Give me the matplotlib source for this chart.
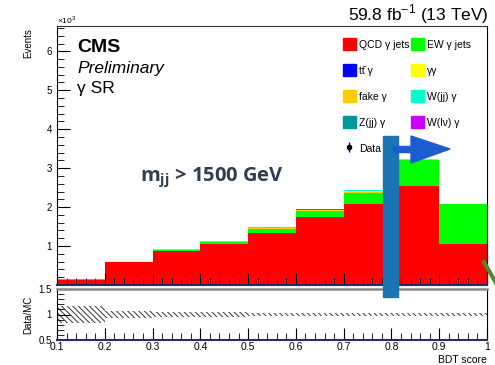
import numpy as np
import matplotlib
matplotlib.use("Agg")
import matplotlib.pyplot as plt
from matplotlib.patches import Patch, Polygon, Rectangle
from matplotlib.lines import Line2D
from matplotlib.ticker import MultipleLocator

plt.rcParams["font.family"] = ["Liberation Sans", "DejaVu Sans"]
plt.rcParams["mathtext.fontset"] = "custom"
plt.rcParams["mathtext.rm"] = "Liberation Sans"
plt.rcParams["mathtext.bf"] = "Open Sans:bold"
plt.rcParams["hatch.linewidth"] = 0.7

# === data (events in thousands) ===
bin_edges = [0.1, 0.2, 0.3, 0.4, 0.5, 0.6, 0.7, 0.8, 0.9, 1.0]
qcd    = [0.14, 0.58, 0.88, 1.06, 1.33, 1.74, 2.08, 2.55, 1.05]
ew     = [0.004, 0.012, 0.025, 0.05, 0.11, 0.16, 0.28, 0.67, 1.02]
fake   = [0.003, 0.005, 0.008, 0.012, 0.02, 0.02, 0.04, 0.005, 0.004]
gg     = [0.001, 0.002, 0.004, 0.006, 0.012, 0.012, 0.025, 0.003, 0.002]
wjj    = [0.001, 0.001, 0.002, 0.003, 0.005, 0.006, 0.008, 0.002, 0.002]
zjj    = [0.001, 0.001, 0.002, 0.002, 0.004, 0.004, 0.006, 0.001, 0.001]
ttg    = [0.001, 0.001, 0.001, 0.002, 0.003, 0.003, 0.004, 0.001, 0.001]
wlv    = [0.001, 0.001, 0.001, 0.001, 0.002, 0.002, 0.003, 0.001, 0.001]
ratio_unc = [0.17, 0.06, 0.045, 0.04, 0.035, 0.03, 0.03, 0.025, 0.025]

W, H = 495, 365
fig = plt.figure(figsize=(4.95, 3.65), dpi=100)

def fx(px):
    return px / W

def fy(py):
    return 1 - py / H

ax = fig.add_axes([fx(57), fy(285), fx(487) - fx(57), fy(26) - fy(285)])
rax = fig.add_axes([fx(57), fy(340), fx(487) - fx(57), fy(289) - fy(340)])

lefts = np.array(bin_edges[:-1])
width = 0.1
stack = [
    (qcd, "#ff0000"), (ew, "#00ff00"), (fake, "#ffcc00"), (gg, "#ffff00"),
    (wjj, "#00ffcc"), (zjj, "#009999"), (ttg, "#0000ff"), (wlv, "#cc00ff"),
]
bottom = np.zeros(len(lefts))
for vals, col in stack:
    ax.bar(lefts, vals, width=width, bottom=bottom, align="edge", color=col, linewidth=0)
    bottom = bottom + np.array(vals)

ax.set_xlim(0.1, 1.0)
ax.set_ylim(0, 6.65)
ax.set_xticklabels([])
ax.xaxis.set_major_locator(MultipleLocator(0.1))
ax.xaxis.set_minor_locator(MultipleLocator(0.02))
ax.yaxis.set_major_locator(MultipleLocator(1))
ax.yaxis.set_minor_locator(MultipleLocator(0.2))
for a in (ax, rax):
    a.tick_params(which="major", direction="in", length=9, width=0.8, labelsize=7)
    a.tick_params(which="minor", direction="in", length=5, width=0.6)
    a.spines["bottom"].set_color("#2a2a6a")
    a.spines["bottom"].set_linewidth(1.5)
ax.set_yticks([1, 2, 3, 4, 5, 6])
ax.set_yticklabels(["1", "2", "3", "4", "5", "6"])
ax.spines["top"].set_color("#333333")

fig.text(fx(57), fy(20), r"$\times$10$^{3}$", fontsize=6, ha="left", va="center")
fig.text(fx(28), fy(28), "Events", rotation=90, fontsize=7, ha="center", va="top")

# ratio pad
rax.bar(lefts, 2 * np.array(ratio_unc), width=width, bottom=1 - np.array(ratio_unc),
        align="edge", fill=False, hatch="\\" * 6, edgecolor="#333333", linewidth=0)
rax.set_xlim(0.1, 1.0)
rax.set_ylim(0.5, 1.5)
rax.xaxis.set_major_locator(MultipleLocator(0.1))
rax.xaxis.set_minor_locator(MultipleLocator(0.02))
rax.set_yticks([0.5, 1, 1.5])
rax.set_yticklabels(["0.5", "1", "1.5"])
rax.yaxis.set_minor_locator(MultipleLocator(0.1))
rax.set_xticks(bin_edges)
rax.set_xticklabels(["0.1", "0.2", "0.3", "0.4", "0.5", "0.6", "0.7", "0.8", "0.9", "1"])
rax.tick_params(axis="x", labelsize=7.5, pad=1.5)
rax.spines["top"].set_color("#888888")
rax.spines["top"].set_linewidth(1.8)
fig.text(fx(28), fy(315), "Data/MC", rotation=90, fontsize=7, ha="center", va="center")
fig.text(fx(487), fy(360), "BDT score", fontsize=7.5, ha="right", va="center")

# labels
fig.text(fx(77), fy(48), "CMS", fontsize=14, fontweight="bold", ha="left", va="center")
fig.text(fx(77), fy(68), "Preliminary", fontsize=12.5, style="italic", ha="left", va="center")
fig.text(fx(77), fy(89), "γ SR", fontsize=12.5, ha="left", va="center")
fig.text(fx(489), fy(14), r"59.8 fb$^{-1}$ (13 TeV)", fontsize=12.5, ha="right", va="center")

# legend
hq = Patch(color="#ff0000")
he = Patch(color="#00ff00")
ht = Patch(color="#0000ff")
hg = Patch(color="#ffff00")
hf = Patch(color="#ffcc00")
hw = Patch(color="#00ffcc")
hz = Patch(color="#009999")
hl = Patch(color="#cc00ff")
hd = ax.errorbar([], [], yerr=[], fmt="o", color="black", ecolor="#0000cc", markersize=3, elinewidth=1)
handles = [hq, ht, hf, hz, hd, he, hg, hw, hl]
labels = ["QCD γ jets", "tt̄ γ", "fake γ", "Z(jj) γ", "Data",
          "EW γ jets", "γγ", "W(jj) γ", "W(lν) γ"]
ax.legend(handles, labels, ncol=2, loc="upper left", bbox_to_anchor=(fx(338), fy(33)),
          bbox_transform=fig.transFigure, frameon=False, fontsize=7.5, borderpad=0,
          handlelength=1.2, handleheight=1.35, handletextpad=0.3, labelspacing=1.38,
          columnspacing=0.2)

# annotations
fig.text(fx(140), fy(177), r"m$_{\mathbf{jj}}$ > 1500 GeV", fontsize=14.5, fontweight="bold",
         family="Open Sans", color="#2d3e50", ha="left", va="center")
fig.patches.append(Rectangle((fx(383), fy(297)), fx(398) - fx(383), fy(136) - fy(297),
                             transform=fig.transFigure, color="#1a74b6", zorder=10))
fig.patches.append(Rectangle((fx(393), fy(152)), fx(412) - fx(393), fy(146) - fy(152),
                             transform=fig.transFigure, color="#1c5cce", zorder=11))
fig.patches.append(Polygon([(fx(411), fy(136)), (fx(411), fy(163)), (fx(450), fy(149))],
                           transform=fig.transFigure, color="#1c5cce", zorder=11))
fig.lines.append(Line2D([fx(484), fx(496)], [fy(262), fy(283)], transform=fig.transFigure,
                        color="#4c8a2c", linewidth=3, zorder=12))

fig.savefig("out.png", dpi=100)
